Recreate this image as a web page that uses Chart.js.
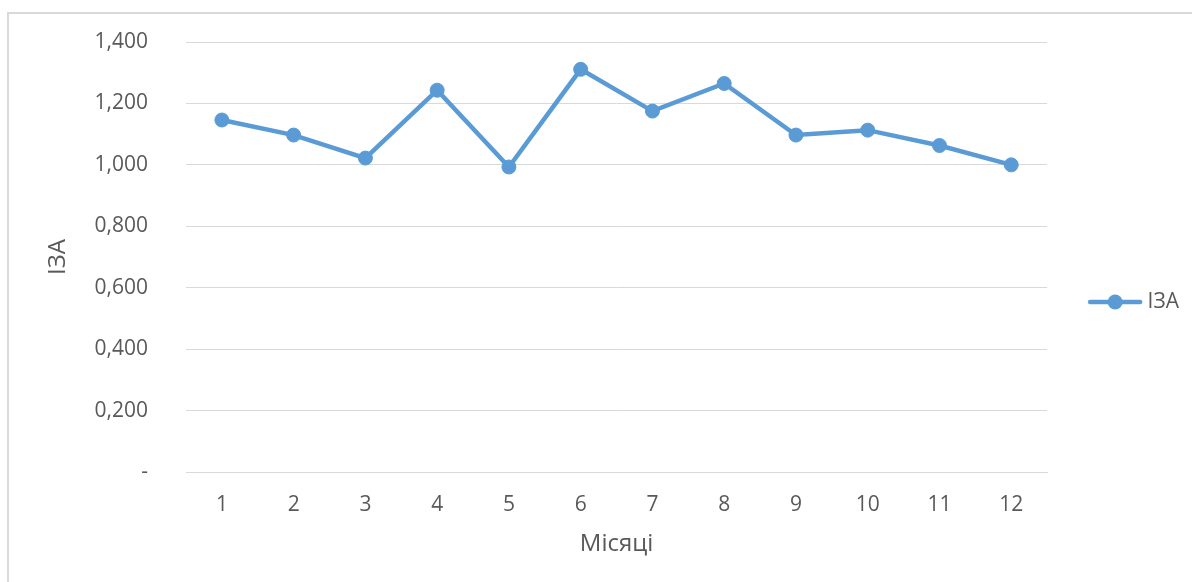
<!DOCTYPE html>
<html>
<head>
<meta charset="utf-8">
<script src="https://cdn.jsdelivr.net/npm/chart.js@4.4.1/dist/chart.umd.min.js"></script>
<style>
  html, body { margin: 0; padding: 0; background: #fff; overflow: hidden; }
  #wrap { position: relative; width: 1192px; height: 582px; }
  #frame { position: absolute; left: 7px; top: 12px; width: 1400px; height: 800px;
           border-left: 2px solid #d9d9d9; border-top: 2px solid #d9d9d9; box-sizing: border-box; }
  canvas { position: absolute; left: 0; top: 0; }
</style>
</head>
<body>
<div id="wrap">
  <div id="frame"></div>
  <canvas id="chart" width="1192" height="582"></canvas>
</div>
<script>
// Monthly index values
const months = ['1', '2', '3', '4', '5', '6', '7', '8', '9', '10', '11', '12'];
const izaValues = [1.146, 1.097, 1.022, 1.243, 0.993, 1.311, 1.175, 1.265, 1.097, 1.113, 1.063, 1.000];
const seriesName = 'ІЗА';
const xTitle = 'Місяці';
const yTitle = 'ІЗА';

const lineColor = '#5B9BD5';
const textColor = '#595959';
const gridColor = '#d9d9d9';
const fontFamily = '"Open Sans", "Liberation Sans", sans-serif';

// Legend swatch: a short line with a round marker in the middle
const swatch = document.createElement('canvas');
swatch.width = 56; swatch.height = 18;
(function () {
  const c = swatch.getContext('2d');
  c.strokeStyle = lineColor; c.lineWidth = 4.5; c.lineCap = 'round';
  c.beginPath(); c.moveTo(3, 9); c.lineTo(53, 9); c.stroke();
  c.fillStyle = lineColor;
  c.beginPath(); c.arc(28, 9, 7.5, 0, Math.PI * 2); c.fill();
})();

function formatTick(v) {
  if (Math.abs(v) < 1e-9) return '-';
  return v.toFixed(3).replace('.', ',');
}

new Chart(document.getElementById('chart'), {
  type: 'line',
  data: {
    labels: months,
    datasets: [{
      label: seriesName,
      data: izaValues,
      borderColor: lineColor,
      backgroundColor: lineColor,
      borderWidth: 4.5,
      pointRadius: 7,
      pointBorderWidth: 1,
      pointBackgroundColor: lineColor,
      pointBorderColor: lineColor,
      tension: 0,
      pointStyle: 'circle'
    }]
  },
  options: {
    responsive: false,
    animation: false,
    layout: { padding: { left: 38, top: 42, bottom: 20, right: 3 } },
    plugins: {
      tooltip: { enabled: false },
      legend: {
        position: 'right',
        labels: {
          usePointStyle: true,
          pointStyle: swatch,
          pointStyleWidth: 44,
          boxHeight: 18,
          padding: 46,
          color: textColor,
          font: { family: fontFamily, size: 21 },
          generateLabels: (chart) => [{
            text: seriesName,
            pointStyle: swatch,
            fillStyle: lineColor,
            strokeStyle: lineColor,
            lineWidth: 0,
            fontColor: textColor,
            datasetIndex: 0,
            hidden: false
          }]
        }
      }
    },
    scales: {
      x: {
        offset: true,
        grid: { display: false },
        border: { display: true, color: gridColor },
        ticks: { color: textColor, font: { family: fontFamily, size: 21 }, padding: 12 },
        title: {
          display: true, text: xTitle, color: textColor,
          font: { family: fontFamily, size: 24 }, padding: { top: 0, bottom: 3 }
        },
        afterFit: (s) => { s.height = 90; }
      },
      y: {
        min: 0, max: 1.4,
        // invisible tick marks keep the labels away from the plot edge
        grid: { color: gridColor, drawTicks: true, tickLength: 38, tickColor: 'rgba(0,0,0,0)', lineWidth: 1 },
        border: { display: false },
        ticks: {
          stepSize: 0.2, color: textColor, padding: 0,
          font: { family: fontFamily, size: 21 },
          callback: (v) => formatTick(v)
        },
        title: {
          display: true, text: yTitle, color: textColor,
          font: { family: fontFamily, size: 24 }, padding: { top: 6, bottom: 0 }
        },
        afterFit: (s) => { s.width = 148; }
      }
    }
  }
});
</script>
</body>
</html>
